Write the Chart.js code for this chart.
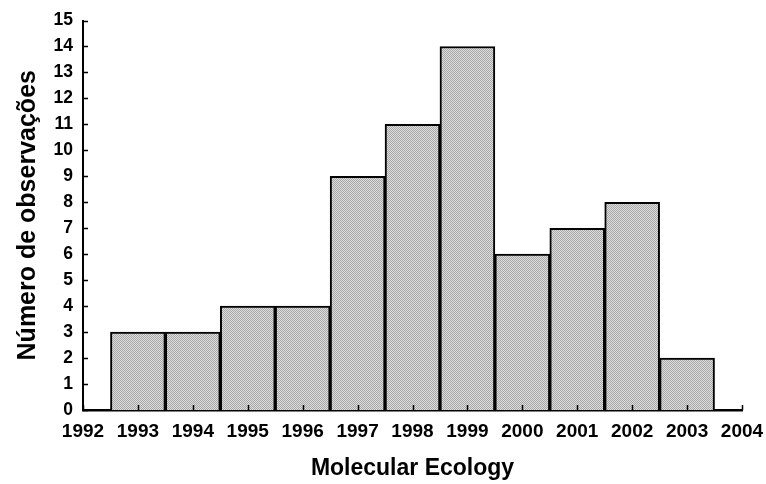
<!DOCTYPE html>
<html>
<head>
<meta charset="utf-8">
<script src="https://cdn.jsdelivr.net/npm/chart.js@4"></script>
<style>
  html, body { margin: 0; padding: 0; background: #fff; }
  #wrap { width: 766px; height: 484px; }
</style>
</head>
<body>
<div id="wrap"><canvas id="chart" width="766" height="484"></canvas></div>
<script>
// Histogram of observations per year
const years = [1993, 1994, 1995, 1996, 1997, 1998, 1999, 2000, 2001, 2002, 2003];
const counts = [3, 3, 4, 4, 9, 11, 14, 6, 7, 8, 2];
const xTicks = [1992, 1993, 1994, 1995, 1996, 1997, 1998, 1999, 2000, 2001, 2002, 2003, 2004];
const yTicks = [0, 1, 2, 3, 4, 5, 6, 7, 8, 9, 10, 11, 12, 13, 14, 15];

// stippled grey fill like the original
function makeStipple() {
    const c = document.createElement('canvas');
    c.width = 2; c.height = 2;
    const g = c.getContext('2d');
    g.fillStyle = '#dcdcdc';
    g.fillRect(0, 0, 2, 2);
    g.fillStyle = '#a8a8a8';
    g.fillRect(0, 0, 1, 1);
    g.fillRect(1, 1, 1, 1);
    return g.createPattern(c, 'repeat');
}

// inward tick marks on both axes
const inwardTicks = {
    id: 'inwardTicks',
    afterDraw(chart) {
        const ctx = chart.ctx;
        const x = chart.scales.x, y = chart.scales.y;
        ctx.save();
        ctx.strokeStyle = '#000';
        ctx.lineWidth = 1.5;
        ctx.beginPath();
        xTicks.forEach(v => {
            const px = Math.round(x.getPixelForValue(v)) + 0.5;
            ctx.moveTo(px, y.bottom);
            ctx.lineTo(px, y.bottom - 5);
        });
        yTicks.forEach(v => {
            const py = Math.round(y.getPixelForValue(v)) + 0.5;
            ctx.moveTo(x.left, py);
            ctx.lineTo(x.left + 5, py);
        });
        ctx.stroke();
        ctx.restore();
    }
};

const fam = 'Liberation Sans, Arial, sans-serif';

new Chart(document.getElementById('chart'), {
    type: 'bar',
    data: {
        datasets: [{
            data: years.map((yr, i) => ({ x: yr, y: counts[i] })),
            backgroundColor: makeStipple(),
            borderColor: '#000',
            borderWidth: 2,
            borderSkipped: 'bottom',
            barPercentage: 1,
            categoryPercentage: 1
        }]
    },
    options: {
        responsive: false,
        animation: false,
        layout: { padding: { top: 12, right: 24, left: 0, bottom: 0 } },
        plugins: { legend: { display: false }, tooltip: { enabled: false } },
        scales: {
            x: {
                type: 'linear',
                offset: false,
                min: 1992,
                max: 2004,
                afterBuildTicks: s => { s.ticks = xTicks.map(v => ({ value: v })); },
                afterFit: s => { s.height = 74; s.paddingRight = 0; s.paddingLeft = 0; },
                grid: { display: false, drawTicks: false, offset: false },
                border: { display: true, color: '#000', width: 2.5 },
                ticks: {
                    color: '#000',
                    font: { family: fam, size: 19, weight: 'bold' },
                    padding: 10,
                    maxRotation: 0,
                    autoSkip: false,
                    callback: v => String(v)
                },
                title: {
                    display: true,
                    text: 'Molecular Ecology',
                    color: '#000',
                    font: { family: fam, size: 23, weight: 'bold' },
                    padding: { top: 0, bottom: 2 }
                }
            },
            y: {
                min: 0,
                max: 15,
                afterBuildTicks: s => { s.ticks = yTicks.map(v => ({ value: v })); },
                afterFit: s => { s.width = 83; },
                grid: { display: false, drawTicks: false },
                border: { display: true, color: '#000', width: 2 },
                ticks: {
                    color: '#000',
                    font: { family: fam, size: 17.5, weight: 'bold' },
                    padding: 10,
                    autoSkip: false
                },
                title: {
                    display: true,
                    text: 'Número de observações',
                    color: '#000',
                    font: { family: fam, size: 25, weight: 'bold' },
                    padding: { top: 13, bottom: 0 }
                }
            }
        }
    },
    plugins: [inwardTicks]
});
</script>
</body>
</html>
